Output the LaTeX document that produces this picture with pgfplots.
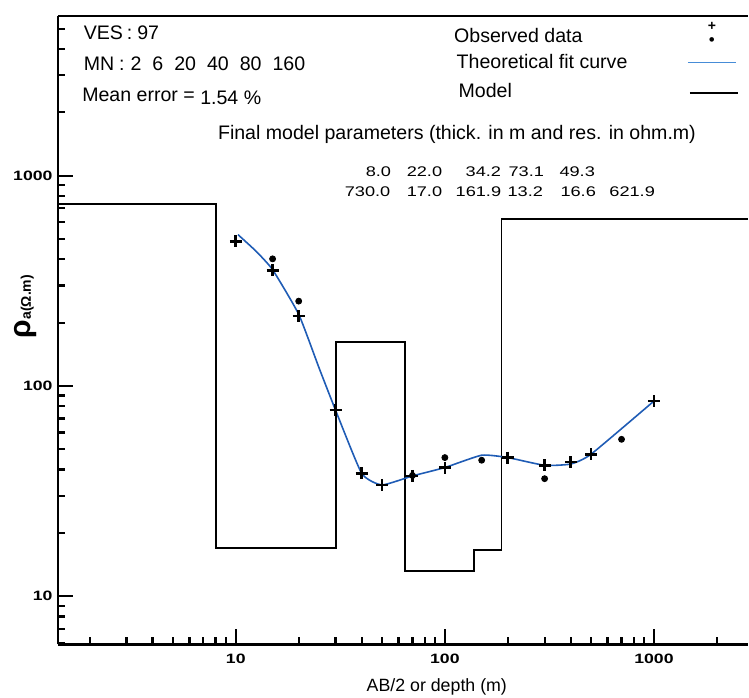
\documentclass[border=0pt]{standalone}
\usepackage{fontspec}
\setmainfont{Liberation Sans}
\newfontfamily\widefont[FakeStretch=1.3]{Liberation Sans}
\usepackage{pgfplots}
\pgfplotsset{compat=1.18}

\definecolor{fitblue}{RGB}{31,92,181}
\definecolor{legblue}{RGB}{70,140,215}

\begin{document}
\begin{tikzpicture}
\begin{axis}[
  scale only axis,
  width=345.5pt, height=314.75pt,
  xmode=log, ymode=log,
  xmin=1.41, xmax=2812, ymin=5.89, ymax=5750,
  axis x line*=bottom, axis y line*=left,
  axis line style={line width=1.2pt,-},
  tick align=inside,
  major tick length=7.75pt, minor tick length=3.75pt,
  every tick/.style={line width=1.1pt, black},
  xtick={10,100,1000}, xticklabels={10,100,1000},
  ytick={10,100,1000}, yticklabels={10,100,1000},
  minor xtick={2,3,4,5,6,7,8,9,20,30,40,50,60,70,80,90,200,300,400,500,600,700,800,900,2000},
  minor ytick={6,7,8,9,20,30,40,50,60,70,80,90,200,300,400,500,600,700,800,900,2000,3000,4000,5000},
  ticklabel style={font=\widefont\bfseries\fontsize{6.8}{7}\selectfont, inner sep=0pt},
  xticklabel style={yshift=-4.75pt},
  yticklabel style={xshift=-2.5pt},
  clip=false,
]
% model (layer resistivities vs depth)
\addplot[black, line width=1pt, line join=miter] coordinates {
  (1.41,730) (8,730) (8,17) (30,17) (30,161.9) (64.2,161.9) (64.2,13.2)
  (137.3,13.2) (137.3,16.6) (186.6,16.6) (186.6,621.9) (2812,621.9)};
% theoretical fit curve
\addplot[fitblue, line width=0.8pt, smooth, tension=0.3] coordinates {
  (10.25,524) (12.5,437) (15,357) (20,219) (25,122) (30,76.7) (40,38.4)
  (50,33.8) (70,37.3) (100,40.9) (150,46.8) (200,45.6) (300,41.9)
  (400,42.5) (500,47.3) (1000,84.7)};
% observed data (+)
\addplot[only marks, mark=+, mark size=3pt, line width=1.3pt, black] coordinates {
  (10,487) (15,354) (20,215) (30,76.7) (40,38.4) (50,33.8) (70,37.3)
  (100,40.9) (200,45.6) (300,41.9) (400,43.4) (500,47.3) (1000,84.7)};
% observed data (dots)
\addplot[only marks, mark=*, mark size=1.5pt, black] coordinates {
  (15,402) (20,253) (70,37.5) (100,45.6) (150,44.3) (300,36.2) (700,55.7)};
\end{axis}
\draw[line width=1.2pt] (current axis.north west) -- (current axis.north east);
\begin{scope}[shift={(current axis.south west)}, xshift=-29pt, yshift=322.75pt, x=0.5pt, y=-0.5pt]
  \path (0,0) rectangle (749,699);
  \begin{scope}[every node/.style={anchor=base west, inner sep=0pt, font=\fontsize{9.8}{12}\selectfont}]
    \node at (83.5,40) {VES\hspace{2pt}:\hspace{2.5pt}97};
    \node at (83.5,71) {MN\hspace{2.5pt}:\hspace{3pt}2\hspace{5.5pt}6\hspace{5.5pt}20\hspace{5.5pt}40\hspace{5.5pt}80\hspace{5.5pt}160};
    \node at (82,102) {Mean error = \raisebox{-1.5pt}{1.54 \%}};
    \node at (454.5,43) {Observed data};
    \node at (457,69) {Theoretical fit curve};
    \node at (459,98) {Model};
    \node at (218,140) {Final model parameters (thick. in m and res. in ohm.m)};
  \end{scope}
  \begin{scope}[every node/.style={anchor=base west, inner sep=0pt, font=\widefont\fontsize{7}{8}\selectfont}]
    \node at (366,177) {8.0};
    \node at (407,177) {22.0};
    \node at (466,177) {34.2};
    \node at (509,177) {73.1};
    \node at (560,177) {49.3};
    \node at (345,197) {730.0};
    \node at (407,197) {17.0};
    \node at (456,197) {161.9};
    \node at (508,197) {13.2};
    \node at (561,197) {16.6};
    \node at (610,197) {621.9};
  \end{scope}
  \node[inner sep=0pt] at (713,26.5) {\bfseries\fontsize{7}{7}\selectfont +};
  \node[inner sep=0pt] at (713,42) {\fontsize{8.5}{8.5}\selectfont •};
  \draw[legblue, line width=0.6pt] (689,63) -- (737,63);
  \draw[black, line width=1.3pt] (691,93) -- (739,93);
  \node[anchor=base, inner sep=0pt, font=\fontsize{8.9}{10}\selectfont] at (437.5,693) {AB/2 or depth (m)};
  \node[rotate=90, inner sep=0pt] at (26,307) {\bfseries{\fontsize{15}{15}\selectfont ρ}{\fontsize{7}{7}\selectfont a(Ω.m)}};
\end{scope}
\end{tikzpicture}
\end{document}
